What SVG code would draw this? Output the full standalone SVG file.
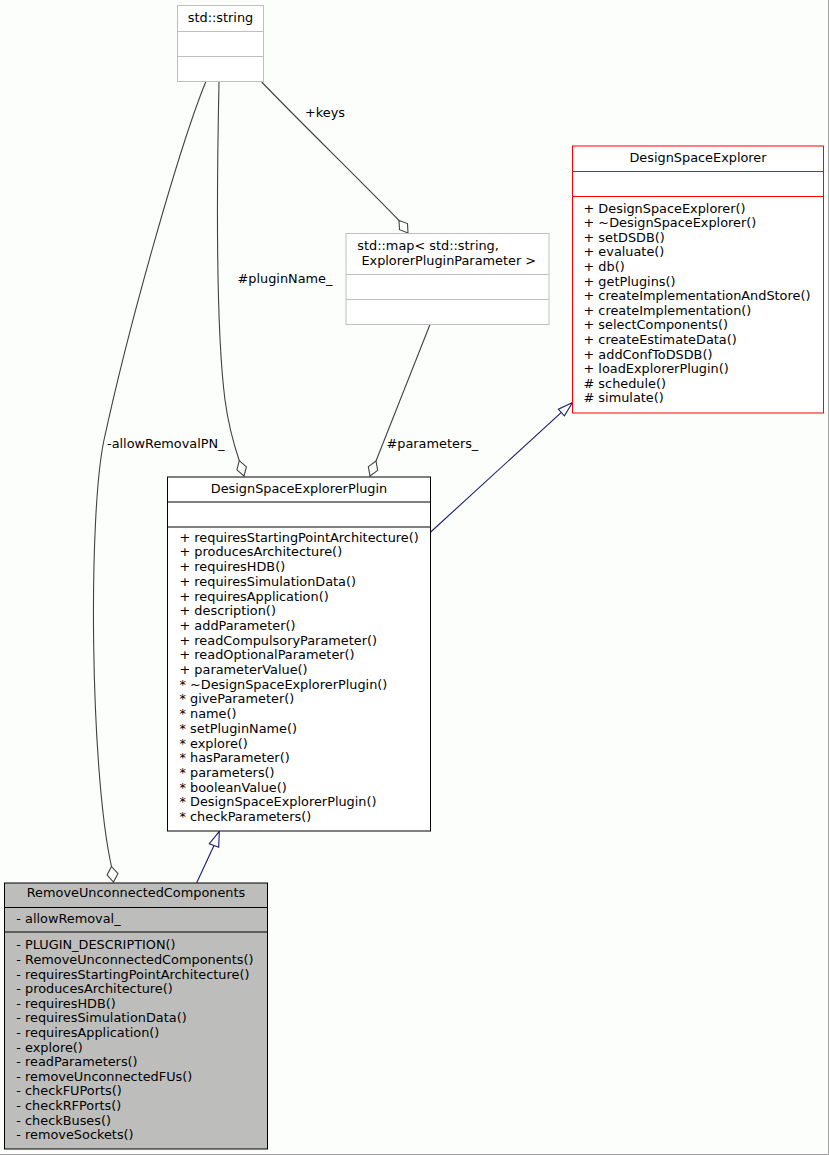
<svg xmlns="http://www.w3.org/2000/svg" width="829" height="1155" viewBox="0 0 829 1155">
<style>
text{font-family:"DejaVu Sans","Liberation Sans",sans-serif;font-size:12.87px;fill:#000}
.t{text-anchor:middle}
.box{fill:#fff;stroke-width:1}
.ext{stroke:#bfbfbf}
.red{stroke:#ff0000}
.blk{stroke:#000}
.sep{stroke-width:1;fill:none}
.agg{fill:none;stroke:#404040;stroke-width:1.1}
.dia{fill:#fff;stroke:#404040;stroke-width:1.1}
.inh{fill:none;stroke:#191970;stroke-width:1.1}
.tri{fill:#fff;stroke:#191970;stroke-width:1.1}
</style>
<rect x="0" y="0" width="829" height="1155" fill="#fcfefc"/>
<path d="M828.5,0 V1154.5 H0" fill="none" stroke="#a0a0a0" stroke-width="1"/>

<g id="connectors">
  <!-- std::string -> DesignSpaceExplorerPlugin (#pluginName_) -->
  <path class="agg" d="M219,82 C216.5,200 216,330 225,400 C229,430 235,448 239.3,460.7"/>
  <polygon class="dia" points="239.3,460.7 246.4,466.9 244,476 236.9,469.8"/>
  <text x="237.5" y="282.5">#pluginName_</text>
  <!-- std::string -> RemoveUnconnectedComponents (-allowRemovalPN_) -->
  <path class="agg" d="M205.7,82 C180,145 130,320 104,440 C88,515 90,770 111.5,866.5"/>
  <polygon class="dia" points="111.5,866.5 117.96,873.55 113.5,882 107.04,874.95"/>
  <text x="107" y="447.5">-allowRemovalPN_</text>
  <!-- std::string -> std::map (+keys) -->
  <path class="agg" d="M261.7,82 C300,122 360,180 399,220.5"/>
  <polygon class="dia" points="399,220.5 407.5,223.6 408,233 399.5,229.7"/>
  <text x="305" y="116.5">+keys</text>
  <!-- std::map -> DesignSpaceExplorerPlugin (#parameters_) -->
  <path class="agg" d="M430,324.5 L376,461"/>
  <polygon class="dia" points="376,461 377.65,470.34 370,476 368.35,466.66"/>
  <text x="386.5" y="447.5">#parameters_</text>
  <!-- DesignSpaceExplorerPlugin -> DesignSpaceExplorer (inheritance) -->
  <path class="inh" d="M430.7,532 L561.4,412.3"/>
  <polygon class="tri" points="572.5,402.5 564.4,415.9 558.4,409.3"/>
  <!-- RemoveUnconnectedComponents -> DesignSpaceExplorerPlugin (inheritance) -->
  <path class="inh" d="M196.7,882.7 L214,845.5"/>
  <polygon class="tri" points="219.3,831.3 218.7,847.25 209.3,843.75"/>
</g>

<g id="std_string">
  <rect class="box ext" x="177.5" y="5.5" width="86" height="76"/>
  <path class="sep ext" d="M177.5,31.5 H263.5 M177.5,56.5 H263.5"/>
  <text class="t" x="220.5" y="21.5">std::string</text>
</g>

<g id="std_map">
  <rect class="box ext" x="346" y="233.5" width="203" height="91"/>
  <path class="sep ext" d="M346,274.5 H549 M346,299.5 H549"/>
  <text x="357.3" y="250">std::map&lt; std::string,</text>
  <text x="361.4" y="265">ExplorerPluginParameter &gt;</text>
</g>

<g id="DesignSpaceExplorer">
  <rect class="box red" x="572.5" y="146" width="251" height="267"/>
  <path class="sep red" d="M572.5,171.5 H823.5 M572.5,196.5 H823.5"/>
  <text class="t" x="698" y="162">DesignSpaceExplorer</text>
  <text x="583.5" y="212.5">+ DesignSpaceExplorer()</text>
  <text x="583.5" y="227.1">+ ~DesignSpaceExplorer()</text>
  <text x="583.5" y="241.7">+ setDSDB()</text>
  <text x="583.5" y="256.3">+ evaluate()</text>
  <text x="583.5" y="270.9">+ db()</text>
  <text x="583.5" y="285.5">+ getPlugins()</text>
  <text x="583.5" y="300.1">+ createImplementationAndStore()</text>
  <text x="583.5" y="314.7">+ createImplementation()</text>
  <text x="583.5" y="329.3">+ selectComponents()</text>
  <text x="583.5" y="343.9">+ createEstimateData()</text>
  <text x="583.5" y="358.5">+ addConfToDSDB()</text>
  <text x="583.5" y="373.1">+ loadExplorerPlugin()</text>
  <text x="583.5" y="387.7"># schedule()</text>
  <text x="583.5" y="402.3"># simulate()</text>
</g>

<g id="DesignSpaceExplorerPlugin">
  <rect class="box blk" x="167.5" y="477" width="263" height="354"/>
  <path class="sep blk" d="M167.5,502 H430.5 M167.5,527 H430.5"/>
  <text class="t" x="299" y="492.5">DesignSpaceExplorerPlugin</text>
  <text x="179.5" y="541.7">+ requiresStartingPointArchitecture()</text>
  <text x="179.5" y="556.4">+ producesArchitecture()</text>
  <text x="179.5" y="571.1">+ requiresHDB()</text>
  <text x="179.5" y="585.8">+ requiresSimulationData()</text>
  <text x="179.5" y="600.5">+ requiresApplication()</text>
  <text x="179.5" y="615.2">+ description()</text>
  <text x="179.5" y="629.9">+ addParameter()</text>
  <text x="179.5" y="644.6">+ readCompulsoryParameter()</text>
  <text x="179.5" y="659.3">+ readOptionalParameter()</text>
  <text x="179.5" y="674">+ parameterValue()</text>
  <text x="179.5" y="688.7">* ~DesignSpaceExplorerPlugin()</text>
  <text x="179.5" y="703.4">* giveParameter()</text>
  <text x="179.5" y="718.1">* name()</text>
  <text x="179.5" y="732.8">* setPluginName()</text>
  <text x="179.5" y="747.5">* explore()</text>
  <text x="179.5" y="762.2">* hasParameter()</text>
  <text x="179.5" y="776.9">* parameters()</text>
  <text x="179.5" y="791.6">* booleanValue()</text>
  <text x="179.5" y="806.3">* DesignSpaceExplorerPlugin()</text>
  <text x="179.5" y="821">* checkParameters()</text>
</g>

<g id="RemoveUnconnectedComponents">
  <rect x="4.5" y="883" width="263" height="266" fill="#bdbebb" stroke="#000" stroke-width="1"/>
  <path class="sep blk" d="M4.5,907.5 H267.5 M4.5,932 H267.5"/>
  <text class="t" x="136" y="897.3">RemoveUnconnectedComponents</text>
  <text x="16.3" y="923.3">- allowRemoval_</text>
  <text x="16.3" y="949.3">- PLUGIN_DESCRIPTION()</text>
  <text x="16.3" y="963.9">- RemoveUnconnectedComponents()</text>
  <text x="16.3" y="978.5">- requiresStartingPointArchitecture()</text>
  <text x="16.3" y="993.1">- producesArchitecture()</text>
  <text x="16.3" y="1007.7">- requiresHDB()</text>
  <text x="16.3" y="1022.3">- requiresSimulationData()</text>
  <text x="16.3" y="1036.9">- requiresApplication()</text>
  <text x="16.3" y="1051.5">- explore()</text>
  <text x="16.3" y="1066.1">- readParameters()</text>
  <text x="16.3" y="1080.7">- removeUnconnectedFUs()</text>
  <text x="16.3" y="1095.3">- checkFUPorts()</text>
  <text x="16.3" y="1109.9">- checkRFPorts()</text>
  <text x="16.3" y="1124.5">- checkBuses()</text>
  <text x="16.3" y="1139.1">- removeSockets()</text>
</g>
</svg>
